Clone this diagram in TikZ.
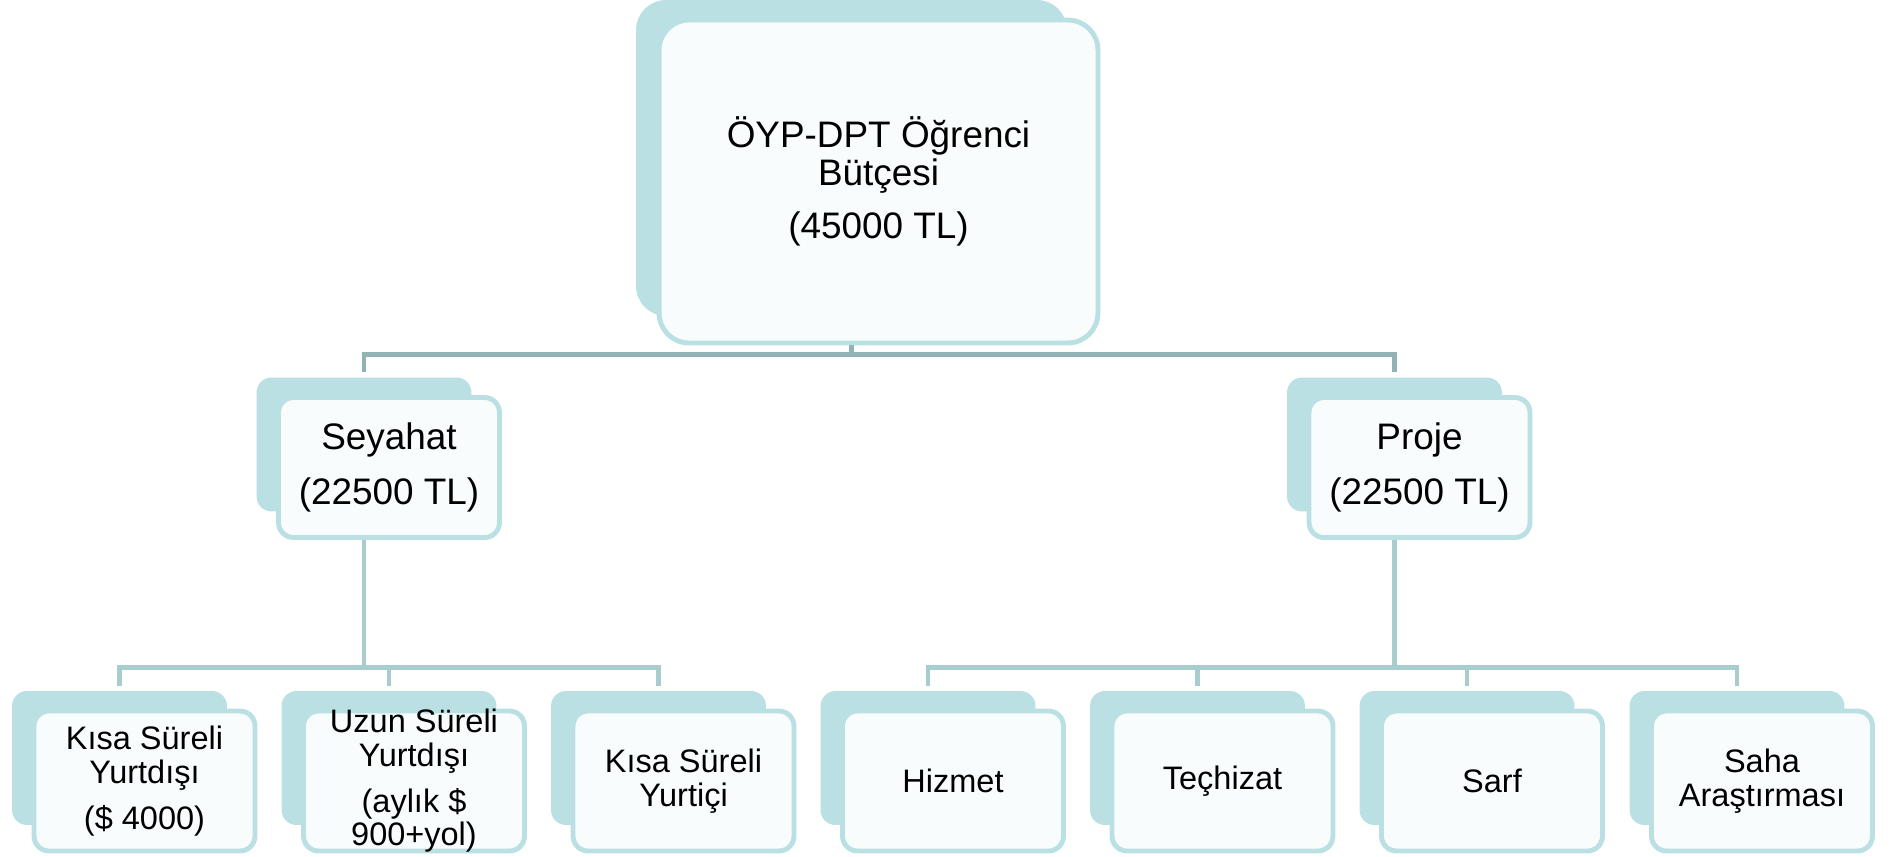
\documentclass[tikz,border=0pt]{standalone}
\usepackage{fontspec}
\setmainfont{Liberation Sans}
\usepackage{xcolor}
\usepackage{tikz}

\definecolor{kutuarka}{RGB}{187,224,227}
\definecolor{kutuon}{RGB}{248,252,252}
\definecolor{baglanti}{RGB}{147,178,181}
\definecolor{altbaglanti}{RGB}{169,204,207}

\begin{document}
\begin{tikzpicture}[x=0.02cm, y=-0.02cm,
  backbox/.style={rectangle, rounded corners=0.3cm, fill=kutuarka, inner sep=0pt,
    minimum width=4.3cm, minimum height=2.68cm},
  frontbox/.style={rectangle, rounded corners=0.3cm, draw=kutuarka, line width=2.8pt,
    fill=kutuon, inner sep=0pt, minimum width=4.42cm, minimum height=2.8cm, align=center},
  bigtext/.style={font=\fontsize{21}{21.5}\selectfont},
  leaftext/.style={font=\fontsize{18.5}{19}\selectfont},
  link/.style={draw=baglanti, line width=2.8pt, shorten >=0.1cm},
  sublink/.style={link, draw=altbaglanti}]
  \useasboundingbox (0,0) rectangle (1894,856);

  \node[backbox, rounded corners=0.6cm, minimum width=8.62cm, minimum height=6.32cm] (butce-b) at (851.5,158) {};
  \node[frontbox, bigtext, rounded corners=0.6cm, minimum width=8.78cm, minimum height=6.46cm] (butce) at (878.5,181.5)
    {ÖYP-DPT Öğrenci\\Bütçesi\\[8.5pt](45000 TL)};

  \node[backbox] (seyahat-b) at (364,444.5) {};
  \node[frontbox, bigtext] (seyahat) at (389,467.5) {Seyahat\\[9.5pt](22500 TL)};
  \node[backbox] (proje-b) at (1394.5,444.5) {};
  \node[frontbox, bigtext] (proje) at (1419.5,467.5) {Proje\\[9.5pt](22500 TL)};

  \node[backbox] (kisa-b) at (119.5,758) {};
  \node[frontbox, leaftext] (kisa) at (144.5,781) {Kısa Süreli\\Yurtdışı\\[7.3pt](\$ 4000)};
  \node[backbox] (uzun-b) at (389,758) {};
  \node[frontbox, leaftext, inner ysep=-3pt] (uzun) at (414,781) {Uzun Süreli\\Yurtdışı\\[7.3pt](aylık \$\\900+yol)};
  \node[backbox] (yurtici-b) at (658.5,758) {};
  \node[frontbox, leaftext] (yurtici) at (683.5,781) {Kısa Süreli\\Yurtiçi};
  \node[backbox] (hizmet-b) at (928,758) {};
  \node[frontbox, leaftext] (hizmet) at (953,781) {Hizmet};
  \node[backbox] (techizat-b) at (1197.5,758) {};
  \node[frontbox, leaftext] (techizat) at (1222.5,781) {Teçhizat};
  \node[backbox] (sarf-b) at (1467,758) {};
  \node[frontbox, leaftext] (sarf) at (1492,781) {Sarf};
  \node[backbox] (saha-b) at (1737,758) {};
  \node[frontbox, leaftext] (saha) at (1762,781) {Saha\\Araştırması};

  \draw[link] (butce.south -| butce-b.center) -- ++(0,9) -| (seyahat-b.north);
  \draw[link] (butce.south -| butce-b.center) -- ++(0,9) -| (proje-b.north);

  \draw[sublink] (seyahat.south -| seyahat-b.center) -- ++(0,128) -| (kisa-b.north);
  \draw[sublink] (seyahat.south -| seyahat-b.center) -- ++(0,128) -| (uzun-b.north);
  \draw[sublink] (seyahat.south -| seyahat-b.center) -- ++(0,128) -| (yurtici-b.north);
  \draw[sublink] (proje.south -| proje-b.center) -- ++(0,128) -| (hizmet-b.north);
  \draw[sublink] (proje.south -| proje-b.center) -- ++(0,128) -| (techizat-b.north);
  \draw[sublink] (proje.south -| proje-b.center) -- ++(0,128) -| (sarf-b.north);
  \draw[sublink] (proje.south -| proje-b.center) -- ++(0,128) -| (saha-b.north);
\end{tikzpicture}
\end{document}
